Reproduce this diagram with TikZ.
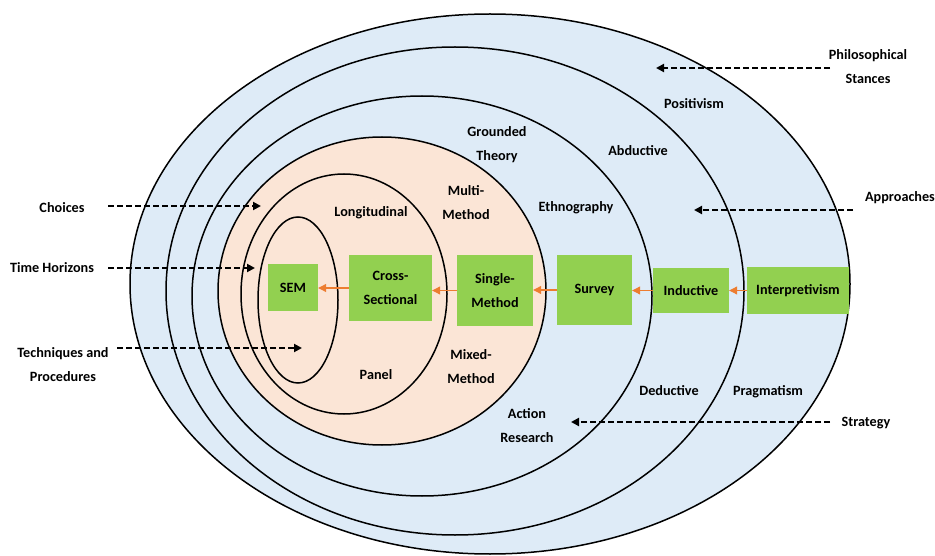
\documentclass[tikz,border=0pt]{standalone}
\usepackage{fontspec}
\setmainfont{Carlito}
\usetikzlibrary{arrows.meta}
\definecolor{ringblue}{HTML}{DEEBF7}
\definecolor{corepeach}{HTML}{FBE5D6}
\definecolor{boxgreen}{HTML}{92D050}
\definecolor{flow}{HTML}{ED7D31}
\begin{document}
\begin{tikzpicture}[x=1pt,y=-1pt,
  ring/.style={draw=black,line width=1.5pt},
  lbl/.style={font=\fontsize{14.2}{24}\selectfont\bfseries,align=center,inner sep=0pt},
  gbox/.style={fill=boxgreen,draw=none,inner sep=0pt,font=\fontsize{14.2}{24}\selectfont\bfseries,align=center},
  flowarrow/.style={draw=flow,line width=1.1pt,-{Triangle[length=8pt,width=8pt]}},
  pointer/.style={draw=black,line width=2pt,dash pattern=on 6pt off 3pt,-{Triangle[length=8pt,width=8pt]}}]
\useasboundingbox (0,0) rectangle (935,556);
\fill[white] (0,0) rectangle (935,556);
% nested layers
\draw[ring,fill=ringblue] (490,284) ellipse [x radius=360pt,y radius=270pt];
\draw[ring,fill=ringblue] (455,291) ellipse [x radius=289pt,y radius=244pt];
\draw[ring,fill=ringblue] (422,296) ellipse [x radius=230pt,y radius=200pt];
\draw[ring,fill=corepeach] (382,291) ellipse [x radius=164pt,y radius=154pt];
\draw[ring] (344,294) ellipse [x radius=103pt,y radius=120pt];
\draw[ring] (298,300) ellipse [x radius=40pt,y radius=83pt];
% layer labels
\node[lbl] (positivism) at (694,104) {Positivism};
\node[lbl] (grounded) at (497,144.5) {Grounded\\Theory};
\node[lbl] (abductive) at (638,151) {Abductive};
\node[lbl] (multi) at (466,202.5) {Multi-\\Method};
\node[lbl] (longitudinal) at (371,213) {Longitudinal};
\node[lbl] (ethnography) at (576,208) {Ethnography};
\node[lbl] (mixed) at (471,367) {Mixed-\\Method};
\node[lbl] (panel) at (376,375) {Panel};
\node[lbl] (deductive) at (669,391) {Deductive};
\node[lbl] (pragmatism) at (768,392) {Pragmatism};
\node[lbl] (action) at (527,425.5) {Action\\Research};
% side captions
\node[lbl] (stances) at (868,66.5) {Philosophical\\Stances};
\node[lbl] (approaches) at (900,198) {Approaches};
\node[lbl] (strategy) at (866,423) {Strategy};
\node[lbl] (choices) at (62,208) {Choices};
\node[lbl] (horizons) at (52,268) {Time Horizons};
\node[lbl] (techniques) at (63,364.5) {Techniques and\\Procedures};
% selected path
\node[gbox,minimum width=50pt,minimum height=47pt] (sem) at (293,287.5) {SEM};
\node[gbox,minimum width=83pt,minimum height=66pt] (cross) at (390.5,288) {Cross-\\Sectional};
\node[gbox,minimum width=76pt,minimum height=71pt] (single) at (495,290.5) {Single-\\Method};
\node[gbox,minimum width=75pt,minimum height=70pt] (survey) at (594.5,290) {Survey};
\node[gbox,minimum width=76pt,minimum height=45pt] (inductive) at (691,290.5) {Inductive};
\node[gbox,minimum width=102pt,minimum height=47pt] (interp) at (798,290.5) {Interpretivism};
\draw[flowarrow] (interp.west) -- (interp.west -| inductive.east);
\draw[flowarrow] (inductive.west) -- (inductive.west -| survey.east);
\draw[flowarrow] (survey.west) -- (survey.west -| single.east);
\draw[flowarrow] (single.west) -- (single.west -| cross.east);
\draw[flowarrow] (cross.west) -- (cross.west -| sem.east);
% caption pointers
\coordinate (p1s) at (830,68);  \coordinate (p1e) at (656,68);
\coordinate (p2s) at (853,210); \coordinate (p2e) at (694,210);
\coordinate (p3s) at (830,422); \coordinate (p3e) at (571,422);
\coordinate (p4s) at (108,206); \coordinate (p4e) at (261,206);
\coordinate (p5s) at (108,268); \coordinate (p5e) at (255,268);
\coordinate (p6s) at (117,348); \coordinate (p6e) at (302,348);
\draw[pointer] (p1s) -- (p1e);
\draw[pointer] (p2s) -- (p2e);
\draw[pointer] (p3s) -- (p3e);
\draw[pointer] (p4s) -- (p4e);
\draw[pointer] (p5s) -- (p5e);
\draw[pointer] (p6s) -- (p6e);
\end{tikzpicture}
\end{document}
